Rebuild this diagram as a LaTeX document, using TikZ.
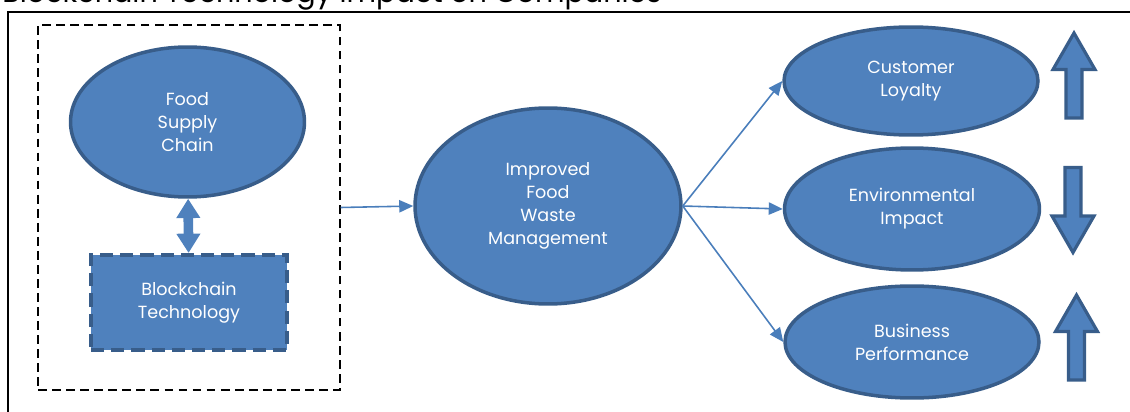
\documentclass[tikz,border=0pt]{standalone}
\usepackage{fontspec}
\setmainfont{Poppins}
\usetikzlibrary{shapes.geometric}
\usetikzlibrary{positioning}
\usetikzlibrary{arrows.meta}
\definecolor{boxfill}{HTML}{4F81BD}
\definecolor{boxline}{HTML}{385D8A}
\definecolor{linkblue}{HTML}{4A7EBB}
\tikzset{every picture/.style={x=0.02cm,y=-0.02cm},
blob/.style={ellipse,fill=boxfill,draw=boxline,line width=2pt,text=white,align=center,font=\fontsize{10}{13}\selectfont},
link/.style={draw=linkblue,line width=0.9pt,-{Triangle[length=8pt,width=7pt]}},
updown/.style={fill=boxfill,draw=boxline,line width=1.8pt,line join=miter}}

\begin{document}
\begin{tikzpicture}
\useasboundingbox (0,0) rectangle (1130,412);
\node (title) [anchor=base west, inner sep=0pt, font=\fontsize{16.3}{19}\selectfont] at (2,3) {Blockchain Technology Impact on Companies};
\draw[line width=1.2pt] (8,12) rectangle (1140,420);

\node (grp) [draw, dash pattern=on 5pt off 3pt, line width=0.8pt, minimum width=6.04cm, minimum height=7.3cm] at (189,207.5) {};
\node (fsc) [blob, minimum width=4.68cm, minimum height=3cm] at (187.5,122) {Food\\Supply\\Chain};
\node (bc) [rectangle, fill=boxfill, draw=boxline, line width=2.3pt, dash pattern=on 7.5pt off 4pt, text=white, align=center, font=\fontsize{10}{13}\selectfont, minimum width=3.92cm, minimum height=1.9cm] at (189,302.5) {Blockchain\\Technology};
\node (fwm) [blob, minimum width=5.32cm, minimum height=3.92cm] at (548,206) {Improved\\Food\\Waste\\Management};

\node (cl) [blob, minimum width=5.08cm, minimum height=2.16cm] at (911,81) {Customer\\Loyalty};
\node (ei) [blob, minimum width=5.1cm, minimum height=2.44cm] at (912,209) {Environmental\\Impact};
\node (bp) [blob, minimum width=5.08cm, minimum height=2.24cm] at (912,342) {Business\\Performance};

\draw[boxfill, line width=5.5pt, {Triangle[length=11pt,width=13pt]}-{Triangle[length=11pt,width=13pt]}] (fsc) -- (bc);
\draw[link] (grp.east) -- (fwm.west);
\foreach \n in {cl, ei, bp} {
\draw[link] (fwm.east) -- (\n.west);
}

\foreach \cx/\cy/\d in {1074/75.5/1, 1073/210/-1, 1076.5/337.5/1} {
\draw[updown] ({\cx},{\cy-42.5*(\d)}) -- ({\cx+21},{\cy-6*(\d)}) -- ({\cx+8},{\cy-6*(\d)}) -- ({\cx+8},{\cy+42.5*(\d)}) -- ({\cx-8},{\cy+42.5*(\d)}) -- ({\cx-8},{\cy-6*(\d)}) -- ({\cx-21},{\cy-6*(\d)}) -- cycle;
}
\end{tikzpicture}
\end{document}
